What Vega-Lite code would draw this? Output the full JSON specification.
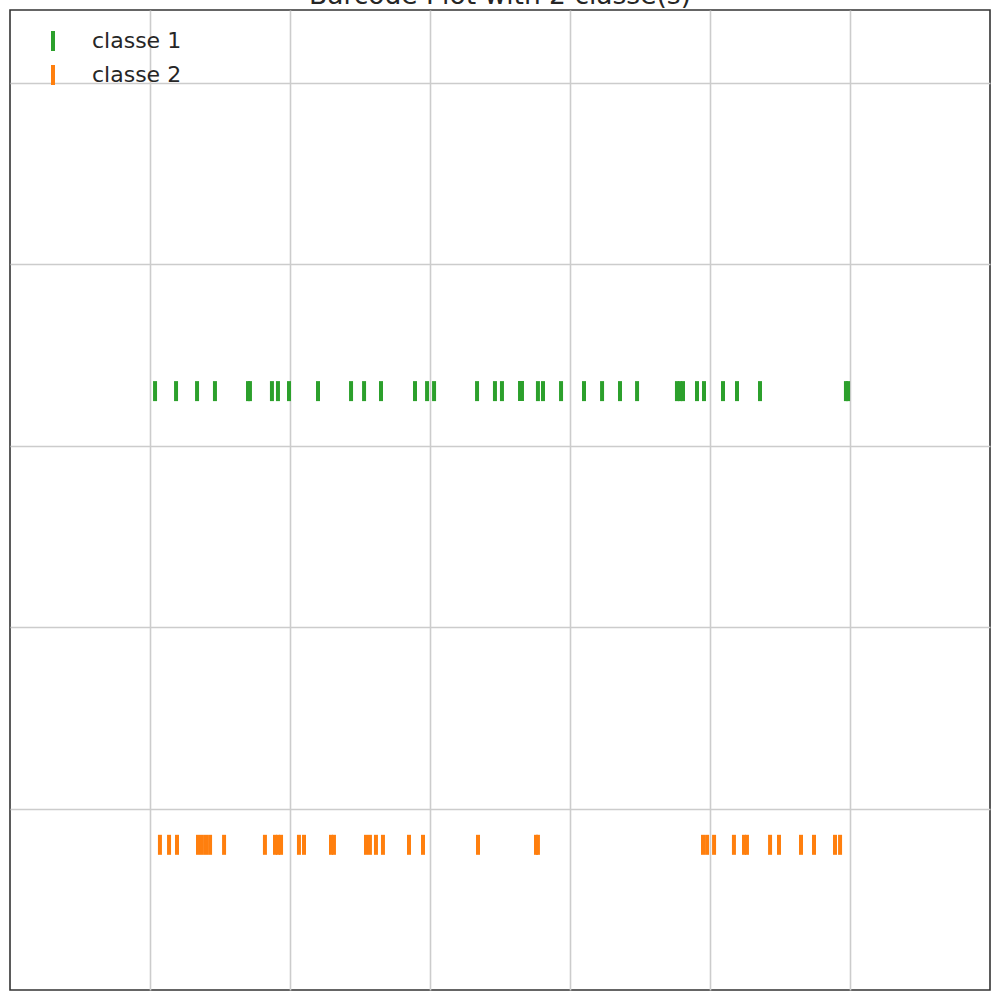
{
  "$schema": "https://vega.github.io/schema/vega-lite/v6.json",
  "autosize": {"type": "none"},
  "padding": {"left": 10, "top": 10, "right": 10, "bottom": 10},
  "width": 980,
  "height": 980,
  "background": "white",
  "title": {
    "text": "Barcode Plot with 2 classe(s)",
    "font": "DejaVu Sans",
    "fontSize": 26.5,
    "fontWeight": "normal",
    "color": "#262626",
    "anchor": "middle",
    "baseline": "alphabetic",
    "offset": 0,
    "dy": 20
  },
  "config": {
    "view": {"stroke": "#333333", "strokeWidth": 1.6},
    "font": "DejaVu Sans"
  },
  "datasets": {
    "levels": [
      {"classe": "classe 1", "niveau": 3.3},
      {"classe": "classe 2", "niveau": 0.8}
    ]
  },
  "data": {
    "values": [
      {"x": 1.036, "classe": "classe 1"},
      {"x": 1.186, "classe": "classe 1"},
      {"x": 1.336, "classe": "classe 1"},
      {"x": 1.464, "classe": "classe 1"},
      {"x": 1.700, "classe": "classe 1"},
      {"x": 1.714, "classe": "classe 1"},
      {"x": 1.871, "classe": "classe 1"},
      {"x": 1.914, "classe": "classe 1"},
      {"x": 1.993, "classe": "classe 1"},
      {"x": 2.200, "classe": "classe 1"},
      {"x": 2.436, "classe": "classe 1"},
      {"x": 2.529, "classe": "classe 1"},
      {"x": 2.650, "classe": "classe 1"},
      {"x": 2.893, "classe": "classe 1"},
      {"x": 2.979, "classe": "classe 1"},
      {"x": 3.029, "classe": "classe 1"},
      {"x": 3.336, "classe": "classe 1"},
      {"x": 3.464, "classe": "classe 1"},
      {"x": 3.514, "classe": "classe 1"},
      {"x": 3.643, "classe": "classe 1"},
      {"x": 3.657, "classe": "classe 1"},
      {"x": 3.771, "classe": "classe 1"},
      {"x": 3.807, "classe": "classe 1"},
      {"x": 3.936, "classe": "classe 1"},
      {"x": 4.100, "classe": "classe 1"},
      {"x": 4.229, "classe": "classe 1"},
      {"x": 4.357, "classe": "classe 1"},
      {"x": 4.479, "classe": "classe 1"},
      {"x": 4.764, "classe": "classe 1"},
      {"x": 4.786, "classe": "classe 1"},
      {"x": 4.807, "classe": "classe 1"},
      {"x": 4.907, "classe": "classe 1"},
      {"x": 4.957, "classe": "classe 1"},
      {"x": 5.093, "classe": "classe 1"},
      {"x": 5.193, "classe": "classe 1"},
      {"x": 5.357, "classe": "classe 1"},
      {"x": 5.971, "classe": "classe 1"},
      {"x": 5.986, "classe": "classe 1"},
      {"x": 1.071, "classe": "classe 2"},
      {"x": 1.136, "classe": "classe 2"},
      {"x": 1.193, "classe": "classe 2"},
      {"x": 1.343, "classe": "classe 2"},
      {"x": 1.371, "classe": "classe 2"},
      {"x": 1.400, "classe": "classe 2"},
      {"x": 1.429, "classe": "classe 2"},
      {"x": 1.529, "classe": "classe 2"},
      {"x": 1.821, "classe": "classe 2"},
      {"x": 1.893, "classe": "classe 2"},
      {"x": 1.914, "classe": "classe 2"},
      {"x": 1.936, "classe": "classe 2"},
      {"x": 2.064, "classe": "classe 2"},
      {"x": 2.100, "classe": "classe 2"},
      {"x": 2.293, "classe": "classe 2"},
      {"x": 2.314, "classe": "classe 2"},
      {"x": 2.543, "classe": "classe 2"},
      {"x": 2.571, "classe": "classe 2"},
      {"x": 2.614, "classe": "classe 2"},
      {"x": 2.664, "classe": "classe 2"},
      {"x": 2.850, "classe": "classe 2"},
      {"x": 2.950, "classe": "classe 2"},
      {"x": 3.343, "classe": "classe 2"},
      {"x": 3.757, "classe": "classe 2"},
      {"x": 3.771, "classe": "classe 2"},
      {"x": 4.950, "classe": "classe 2"},
      {"x": 4.979, "classe": "classe 2"},
      {"x": 5.029, "classe": "classe 2"},
      {"x": 5.171, "classe": "classe 2"},
      {"x": 5.243, "classe": "classe 2"},
      {"x": 5.264, "classe": "classe 2"},
      {"x": 5.429, "classe": "classe 2"},
      {"x": 5.493, "classe": "classe 2"},
      {"x": 5.650, "classe": "classe 2"},
      {"x": 5.743, "classe": "classe 2"},
      {"x": 5.893, "classe": "classe 2"},
      {"x": 5.929, "classe": "classe 2"}
    ]
  },
  "transform": [
    {"lookup": "classe", "from": {"data": {"name": "levels"}, "key": "classe", "fields": ["niveau"]}}
  ],
  "mark": {"type": "tick", "orient": "vertical", "size": 20, "thickness": 4, "opacity": 1},
  "encoding": {
    "x": {
      "field": "x",
      "type": "quantitative",
      "scale": {"domain": [0, 7], "nice": false, "zero": false},
      "axis": {
        "values": [1, 2, 3, 4, 5, 6],
        "labels": false,
        "ticks": false,
        "domain": false,
        "title": null,
        "grid": true,
        "gridColor": "#cccccc",
        "gridWidth": 1.6,
        "gridOpacity": 1
      }
    },
    "y": {
      "field": "niveau",
      "type": "quantitative",
      "scale": {"domain": [0, 5.4], "nice": false, "zero": false},
      "axis": {
        "values": [1, 2, 3, 4, 5],
        "labels": false,
        "ticks": false,
        "domain": false,
        "title": null,
        "grid": true,
        "gridColor": "#cccccc",
        "gridWidth": 1.6,
        "gridOpacity": 1
      }
    },
    "color": {
      "field": "classe",
      "type": "nominal",
      "scale": {"domain": ["classe 1", "classe 2"], "range": ["#2ca02c", "#ff7f0e"]},
      "legend": {
        "title": null,
        "orient": "none",
        "legendX": 32,
        "legendY": 20,
        "padding": 0,
        "symbolType": "M-0.2,-1H0.2V1H-0.2Z",
        "symbolSize": 400,
        "symbolOpacity": 1,
        "symbolStrokeWidth": 0,
        "labelFont": "DejaVu Sans",
        "labelFontSize": 22,
        "labelColor": "#262626",
        "labelOffset": 28,
        "rowPadding": 12
      }
    }
  }
}
